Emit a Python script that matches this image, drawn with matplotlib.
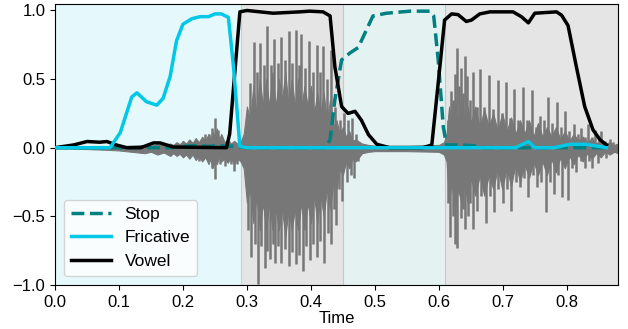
import numpy as np
import matplotlib
matplotlib.use('Agg')
import matplotlib.pyplot as plt

plt.rcParams['font.family'] = ['Liberation Sans', 'DejaVu Sans']
plt.rcParams['font.size'] = 12

# class posteriors
stop_t = [0.0, 0.18, 0.20, 0.22, 0.24, 0.26, 0.28, 0.30, 0.36, 0.40, 0.422, 0.43, 0.4375, 0.448, 0.461,
          0.474, 0.484, 0.497, 0.518, 0.555, 0.586, 0.592, 0.599, 0.607, 0.612, 0.63, 0.654, 0.67, 0.862]
stop_v = [0.0, 0.0, 0.01, 0.015, 0.01, 0.015, 0.01, 0.0, 0.0, 0.0, 0.0, 0.058, 0.35, 0.64, 0.69,
          0.73, 0.83, 0.96, 0.98, 0.995, 0.995, 0.96, 0.64, 0.15, 0.02, 0.02, 0.015, 0.0, 0.0]

fric_t = [0.0, 0.086, 0.102, 0.12, 0.128, 0.143, 0.159, 0.169, 0.18, 0.19, 0.20, 0.214, 0.227, 0.24,
          0.25, 0.26, 0.271, 0.279, 0.289, 0.30, 0.45, 0.60, 0.72, 0.74, 0.75, 0.78, 0.805, 0.83, 0.862]
fric_v = [0.0, 0.0, 0.11, 0.37, 0.40, 0.335, 0.31, 0.36, 0.52, 0.78, 0.90, 0.94, 0.955, 0.955,
          0.975, 0.975, 0.95, 0.59, 0.01, 0.0, 0.0, 0.0, 0.0, 0.045, 0.0, 0.0, 0.025, 0.025, 0.0]

vow_t = [0.0, 0.029, 0.05, 0.07, 0.081, 0.096, 0.112, 0.134, 0.154, 0.164, 0.185, 0.268, 0.273,
         0.289, 0.30, 0.341, 0.383, 0.398, 0.419, 0.43, 0.4375, 0.448, 0.458, 0.469, 0.479, 0.49,
         0.503, 0.523, 0.575, 0.589, 0.599, 0.609, 0.62, 0.63, 0.643, 0.651, 0.664, 0.68, 0.716,
         0.729, 0.74, 0.75, 0.784, 0.792, 0.802, 0.815, 0.828, 0.841, 0.852, 0.862]
vow_v = [0.0, 0.02, 0.045, 0.04, 0.045, 0.02, 0.0, 0.0, 0.035, 0.035, 0.005, 0.0, 0.10,
         0.99, 1.0, 0.98, 0.99, 0.995, 0.99, 0.96, 0.59, 0.30, 0.25, 0.265, 0.20, 0.095,
         0.025, 0.0, 0.0, 0.02, 0.47, 0.93, 0.975, 0.97, 0.92, 0.93, 0.975, 0.99, 0.99,
         0.955, 0.91, 0.98, 0.99, 0.965, 0.89, 0.59, 0.30, 0.13, 0.058, 0.02]

# audio waveform: jagged envelope of the dense core
env_t = [0.0, 0.05, 0.08, 0.10, 0.12, 0.14, 0.15, 0.16, 0.17, 0.18, 0.185, 0.19, 0.195, 0.20, 0.205,
         0.21, 0.215, 0.22, 0.225, 0.23, 0.235, 0.24, 0.243, 0.246, 0.25, 0.253, 0.256, 0.26, 0.265,
         0.27, 0.275, 0.28, 0.285, 0.29,
         0.295, 0.30, 0.305, 0.31, 0.315, 0.32, 0.325, 0.33, 0.335, 0.34, 0.345, 0.35, 0.355, 0.36,
         0.365, 0.37, 0.375, 0.38, 0.385, 0.39, 0.395, 0.40, 0.405, 0.41, 0.415, 0.42, 0.425, 0.43,
         0.435, 0.44, 0.445,
         0.45, 0.455, 0.46, 0.465, 0.47, 0.48, 0.49, 0.50, 0.55, 0.60, 0.608,
         0.612, 0.616, 0.62, 0.625, 0.63, 0.635, 0.64, 0.645, 0.65, 0.657, 0.664, 0.671, 0.678, 0.685,
         0.692, 0.699, 0.706, 0.713, 0.72, 0.727, 0.734, 0.741, 0.748, 0.755, 0.762, 0.769, 0.776,
         0.783, 0.79, 0.797, 0.804, 0.811, 0.818, 0.825, 0.832, 0.839, 0.846, 0.853, 0.86, 0.867,
         0.874, 0.88]
env_hi = [0.005, 0.008, 0.01, 0.01, 0.015, 0.02, 0.015, 0.025, 0.02, 0.03, 0.02, 0.04, 0.025, 0.05, 0.03,
          0.06, 0.035, 0.07, 0.04, 0.08, 0.05, 0.1, 0.06, 0.12, 0.08, 0.14, 0.06, 0.1, 0.04,
          0.06, 0.03, 0.05, 0.03, 0.04,
          0.1, 0.3, 0.2, 0.45, 0.25, 0.5, 0.3, 0.5, 0.3, 0.55, 0.3, 0.5, 0.35, 0.55,
          0.3, 0.5, 0.3, 0.5, 0.3, 0.45, 0.3, 0.45, 0.25, 0.4, 0.25, 0.4, 0.2, 0.35,
          0.15, 0.2, 0.1,
          0.15, 0.08, 0.12, 0.05, 0.06, 0.03, 0.02, 0.015, 0.015, 0.02, 0.04,
          0.1, 0.3, 0.2, 0.35, 0.2, 0.35, 0.2, 0.3, 0.18, 0.3, 0.15, 0.28, 0.15, 0.25,
          0.12, 0.25, 0.12, 0.22, 0.1, 0.2, 0.1, 0.2, 0.08, 0.18, 0.08, 0.15, 0.08,
          0.15, 0.06, 0.12, 0.05, 0.1, 0.05, 0.08, 0.04, 0.07, 0.03, 0.06, 0.03, 0.04,
          0.02, 0.03]
env_lo = [-0.005, -0.01, -0.015, -0.02, -0.03, -0.04, -0.03, -0.05, -0.035, -0.06, -0.04, -0.06, -0.045, -0.07, -0.05,
          -0.08, -0.05, -0.09, -0.06, -0.1, -0.07, -0.12, -0.08, -0.15, -0.1, -0.12, -0.07, -0.1, -0.08,
          -0.11, -0.07, -0.12, -0.08, -0.1,
          -0.15, -0.4, -0.3, -0.55, -0.35, -0.6, -0.4, -0.6, -0.4, -0.6, -0.45, -0.6, -0.45, -0.65,
          -0.45, -0.6, -0.45, -0.6, -0.4, -0.6, -0.4, -0.55, -0.35, -0.55, -0.35, -0.5, -0.3, -0.45,
          -0.25, -0.3, -0.15,
          -0.2, -0.1, -0.15, -0.08, -0.1, -0.04, -0.03, -0.025, -0.025, -0.03, -0.05,
          -0.1, -0.4, -0.25, -0.45, -0.3, -0.4, -0.25, -0.4, -0.22, -0.35, -0.2, -0.35, -0.2, -0.3,
          -0.15, -0.3, -0.15, -0.28, -0.12, -0.25, -0.12, -0.22, -0.1, -0.2, -0.1, -0.2, -0.08,
          -0.18, -0.07, -0.15, -0.06, -0.12, -0.05, -0.1, -0.04, -0.08, -0.04, -0.07, -0.03, -0.05,
          -0.03, -0.04]

# waveform spikes (glottal pulses and bursts)
pos_t = [0.235, 0.24, 0.245, 0.25, 0.255,
         0.305, 0.311, 0.315, 0.320, 0.326, 0.332, 0.337, 0.343, 0.348, 0.353, 0.359, 0.365, 0.370,
         0.376, 0.381, 0.385, 0.391, 0.397, 0.403, 0.409, 0.414, 0.419, 0.425, 0.431, 0.438, 0.445,
         0.452, 0.458, 0.465, 0.47,
         0.615, 0.619, 0.622, 0.625, 0.629, 0.632, 0.635, 0.638, 0.641, 0.644, 0.648, 0.653, 0.659,
         0.665, 0.671, 0.678, 0.685, 0.692, 0.698, 0.705, 0.711, 0.718, 0.724, 0.731, 0.738, 0.745,
         0.752, 0.758, 0.764, 0.771, 0.777, 0.784, 0.791, 0.798, 0.804, 0.811, 0.817, 0.823, 0.828,
         0.833, 0.839, 0.844, 0.85, 0.854, 0.86, 0.867, 0.872]
pos_v = [0.1, 0.1, 0.14, 0.22, 0.13,
         0.47, 0.77, 0.55, 0.76, 0.6, 0.89, 0.6, 0.79, 0.62, 0.81, 0.64, 0.85, 0.62,
         0.86, 0.6, 0.83, 0.58, 0.78, 0.55, 0.75, 0.55, 0.74, 0.5, 0.71, 0.3, 0.2,
         0.25, 0.2, 0.22, 0.1,
         0.2, 0.41, 0.35, 0.54, 0.73, 0.45, 0.58, 0.4, 0.67, 0.52, 0.35, 0.55, 0.3,
         0.57, 0.3, 0.53, 0.28, 0.49, 0.25, 0.48, 0.22, 0.43, 0.2, 0.44, 0.2, 0.42,
         0.15, 0.23, 0.2, 0.37, 0.18, 0.33, 0.15, 0.27, 0.12, 0.17, 0.1, 0.14, 0.08,
         0.17, 0.08, 0.13, 0.06, 0.12, 0.05, 0.06, 0.04]

neg_t = [0.225, 0.23, 0.245, 0.25, 0.258, 0.265, 0.275, 0.28, 0.285,
         0.302, 0.307, 0.312, 0.317, 0.322, 0.328, 0.332, 0.336, 0.340, 0.344, 0.349, 0.354, 0.360,
         0.365, 0.370, 0.376, 0.382, 0.388, 0.393, 0.398, 0.404, 0.410, 0.415, 0.421, 0.426, 0.432,
         0.436, 0.440, 0.444, 0.448, 0.456, 0.462, 0.468, 0.474,
         0.615, 0.618, 0.622, 0.625, 0.629, 0.634, 0.638, 0.641, 0.645, 0.649, 0.653, 0.66, 0.666,
         0.673, 0.68, 0.686, 0.693, 0.70, 0.707, 0.713, 0.72, 0.727, 0.733, 0.74, 0.747, 0.753,
         0.76, 0.767, 0.773, 0.78, 0.787, 0.793, 0.802, 0.808, 0.815, 0.822, 0.828, 0.834, 0.839,
         0.849, 0.862, 0.877]
neg_v = [-0.1, -0.08, -0.15, -0.23, -0.12, -0.13, -0.12, -0.17, -0.12,
         -0.6, -0.80, -0.7, -0.99, -0.72, -0.88, -0.75, -0.81, -0.7, -0.84, -0.72, -0.84, -0.74,
         -0.86, -0.76, -0.85, -0.78, -0.90, -0.72, -0.82, -0.7, -0.80, -0.68, -0.84, -0.62, -0.70,
         -0.45, -0.56, -0.3, -0.39, -0.25, -0.2, -0.22, -0.1,
         -0.4, -0.65, -0.5, -0.70, -0.73, -0.51, -0.45, -0.59, -0.50, -0.4, -0.59, -0.46, -0.35,
         -0.55, -0.35, -0.47, -0.3, -0.40, -0.3, -0.46, -0.25, -0.29, -0.22, -0.36, -0.2, -0.29,
         -0.25, -0.47, -0.25, -0.34, -0.2, -0.36, -0.38, -0.15, -0.18, -0.1, -0.15, -0.1, -0.15,
         -0.11, -0.075, -0.03]

# segment labels (start, end, class)
seg_start = [0.0, 0.29, 0.45, 0.61]
seg_end = [0.29, 0.45, 0.61, 0.88]
seg_class = ['Fricative', 'Vowel', 'Stop', 'Vowel']

colours = {'Stop': 'teal', 'Fricative': '#00c8e6', 'Vowel': 'k'}
span_colours = {'Stop': 'teal', 'Fricative': '#00c8e6', 'Vowel': 'gray'}
span_alpha = {'Stop': 0.1, 'Fricative': 0.1, 'Vowel': 0.2}

fig = plt.figure(figsize=(6.28, 3.29), dpi=100)
ax = fig.add_axes([0.0876, 0.134, 0.8964, 0.855])

for s, e, c in zip(seg_start, seg_end, seg_class):
    ax.axvspan(s, e, color=span_colours[c], alpha=span_alpha[c], lw=0.8, zorder=0)

wave_col = '#777777'
ax.fill_between(env_t, env_lo, env_hi, color=wave_col, lw=0.8, zorder=1)
ax.vlines(pos_t, 0, pos_v, color=wave_col, lw=1.8, zorder=1)
ax.vlines(neg_t, 0, neg_v, color=wave_col, lw=1.8, zorder=1)

l_stop, = ax.plot(stop_t, stop_v, '--', color=colours['Stop'], lw=2.5, label='Stop', zorder=3)
l_vow, = ax.plot(vow_t, vow_v, color=colours['Vowel'], lw=2.5, label='Vowel', zorder=4)
l_fric, = ax.plot(fric_t, fric_v, color=colours['Fricative'], lw=2.5, label='Fricative', zorder=5)

ax.legend(handles=[l_stop, l_fric, l_vow], loc='lower left', handlelength=2.3, fontsize=12.5)

ax.set_xlim(0, 0.88)
ax.set_ylim(-1.0, 1.05)
ax.set_xticks(np.arange(0, 0.85, 0.1))
ax.set_yticks([-1.0, -0.5, 0.0, 0.5, 1.0])
ax.set_xlabel('Time', labelpad=1)

plt.savefig('out.png', dpi=100)
